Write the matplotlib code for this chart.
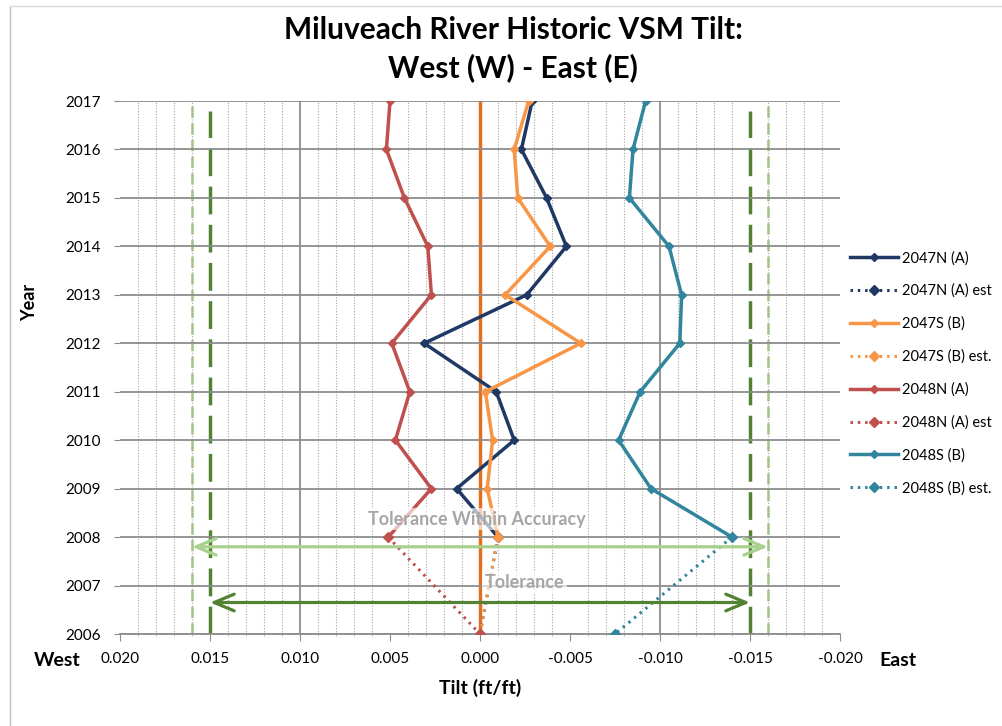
#!/usr/bin/env python3

import numpy as np
import matplotlib
matplotlib.use("Agg")
import matplotlib.pyplot as plt
from matplotlib.lines import Line2D
from matplotlib.ticker import MultipleLocator, FormatStrFormatter

plt.rcParams['font.family'] = ['Lato', 'DejaVu Sans']

# Survey years (measured) and estimated extension back to 2006
years = [2017, 2016, 2015, 2014, 2013, 2012, 2011, 2010, 2009, 2008]
est_years = [2008, 2006]

# Tilt readings (ft/ft); positive = West, negative = East
tilt_2047N = [-0.0029, -0.0023, -0.0037, -0.0048, -0.0026, 0.0031, -0.0009, -0.0019, 0.0013, -0.0010]
tilt_2047S = [-0.0027, -0.0019, -0.0021, -0.0039, -0.0014, -0.0056, -0.0003, -0.0007, -0.0004, -0.0010]
tilt_2048N = [0.0050, 0.0052, 0.0042, 0.0029, 0.0027, 0.0049, 0.0039, 0.0047, 0.0027, 0.0051]
tilt_2048S = [-0.0092, -0.0085, -0.0083, -0.0105, -0.0112, -0.0111, -0.0089, -0.0077, -0.0095, -0.0140]

est_2047N = [-0.0010, 0.0]
est_2047S = [-0.0010, 0.0]
est_2048N = [0.0051, 0.0]
est_2048S = [-0.0140, -0.0075]

labels = ['2047N (A)', '2047N (A) est', '2047S (B)', '2047S (B) est.',
          '2048N (A)', '2048N (A) est', '2048S (B)', '2048S (B) est.']
colors = ['#1F3864', '#F79646', '#C0504D', '#31859C']

tolerance = 0.015
tolerance_acc = 0.016
arrow_acc_year = 2007.8
arrow_tol_year = 2006.65

W, H = 1003, 726
fig = plt.figure(figsize=(W / 100, H / 100), dpi=100)
ax = fig.add_axes([120 / W, 1 - 634 / H, 720 / W, 533 / H])

ax.set_xlim(0.020, -0.020)
ax.set_ylim(2006, 2017)

# grid
ax.xaxis.set_major_locator(MultipleLocator(0.005))
ax.xaxis.set_minor_locator(MultipleLocator(0.001))
ax.xaxis.set_major_formatter(FormatStrFormatter('%.3f'))
ax.yaxis.set_major_locator(MultipleLocator(1))
ax.yaxis.set_major_formatter(FormatStrFormatter('%d'))
ax.grid(which='minor', axis='x', color='#A6A6A6', linestyle=(0, (1, 1.5)), linewidth=0.8, zorder=0)
ax.grid(which='major', axis='y', color='#8C8C8C', linestyle='-', linewidth=1.3, zorder=0)
for v in np.arange(-0.02, 0.0201, 0.01):
    if abs(v) > 0.019:
        continue
    ax.axvline(v, color='#8C8C8C', linewidth=1.3, zorder=0)

for s in ['top', 'right', 'left']:
    ax.spines[s].set_visible(False)
ax.spines['bottom'].set_color('#8C8C8C')
ax.spines['bottom'].set_linewidth(1.3)

ax.tick_params(axis='both', which='major', labelsize=11, colors='#8C8C8C', labelcolor='black')
ax.tick_params(axis='x', which='major', length=5, pad=8)
ax.tick_params(axis='x', which='minor', length=3, direction='inout', colors='#A6A6A6')
ax.tick_params(axis='y', which='major', length=4, pad=10)

# tolerance guides
for sgn in (1, -1):
    ax.axvline(sgn * tolerance_acc, color='#A9D18E', linestyle=(0, (4, 2)), linewidth=2, zorder=1)
    ax.plot([sgn * tolerance, sgn * tolerance], [2006, 2016.8], color='#548235',
            linestyle=(0, (8, 3)), linewidth=2.5, zorder=1)
ax.axvline(0, color='#E07020', linewidth=2.5, zorder=1)

# data series
series = [(tilt_2047N, est_2047N), (tilt_2047S, est_2047S),
          (tilt_2048N, est_2048N), (tilt_2048S, est_2048S)]
handles = []
for i, ((vals, est), c) in enumerate(zip(series, colors)):
    h1, = ax.plot(vals, years, color=c, linewidth=2.5, marker='D', markersize=4.5, zorder=3,
                  label=labels[2 * i])
    h2, = ax.plot(est, est_years, color=c, linewidth=2.2, linestyle=(0, (0.8, 1.6)),
                  marker='D', markersize=5, zorder=3, label=labels[2 * i + 1])
    handles += [h1, h2]

# tolerance arrows
arrow_style = '<->,head_length=1.2,head_width=0.5'
ax.annotate('', xy=(tolerance_acc, arrow_acc_year), xytext=(-tolerance_acc, arrow_acc_year),
            arrowprops=dict(arrowstyle=arrow_style, color='#A9D18E',
                            lw=2.3, shrinkA=0, shrinkB=0, mutation_scale=12), zorder=4)
ax.annotate('', xy=(tolerance, arrow_tol_year), xytext=(-tolerance, arrow_tol_year),
            arrowprops=dict(arrowstyle=arrow_style, color='#548235',
                            lw=2.3, shrinkA=0, shrinkB=0, mutation_scale=12), zorder=4)

ax.text(0.0002, 2008.37, 'Tolerance Within Accuracy', ha='center', va='center', fontsize=13,
        fontweight='bold', color='#A6A6A6', zorder=5,
        bbox=dict(facecolor='white', alpha=0.65, edgecolor='none', pad=2))
ax.text(-0.00245, 2007.07, 'Tolerance', ha='center', va='center', fontsize=13,
        fontweight='bold', color='#A6A6A6', zorder=5,
        bbox=dict(facecolor='white', alpha=0.65, edgecolor='none', pad=2))

# titles and labels
fig.text(513 / W, 1 - 30 / H, 'Miluveach River Historic VSM Tilt:', ha='center', va='center',
         fontsize=21.5, fontweight='bold')
fig.text(513 / W, 1 - 68 / H, 'West (W) - East (E)', ha='center', va='center',
         fontsize=21.5, fontweight='bold')
fig.text(480 / W, 1 - 688 / H, 'Tilt (ft/ft)', ha='center', va='center', fontsize=14, fontweight='bold')
fig.text(30 / W, 1 - 302 / H, 'Year', ha='center', va='center', fontsize=13, fontweight='bold',
         rotation=90)
fig.text(57 / W, 1 - 661 / H, 'West', ha='center', va='center', fontsize=14, fontweight='bold')
fig.text(898 / W, 1 - 661 / H, 'East', ha='center', va='center', fontsize=14, fontweight='bold')

fig.legend(handles=handles, loc='upper left', bbox_to_anchor=(850 / W, 1 - 251 / H),
           frameon=False, fontsize=10.5, handlelength=3.3, handletextpad=0.3,
           labelspacing=1.27, borderpad=0, borderaxespad=0, numpoints=1)

# chart area border
fig.add_artist(Line2D([10 / W, 10 / W], [0, 1 - 6 / H], color='#BFBFBF', linewidth=1))
fig.add_artist(Line2D([10 / W, 1], [1 - 6 / H, 1 - 6 / H], color='#D9D9D9', linewidth=1))

fig.savefig('out.png', dpi=100)
